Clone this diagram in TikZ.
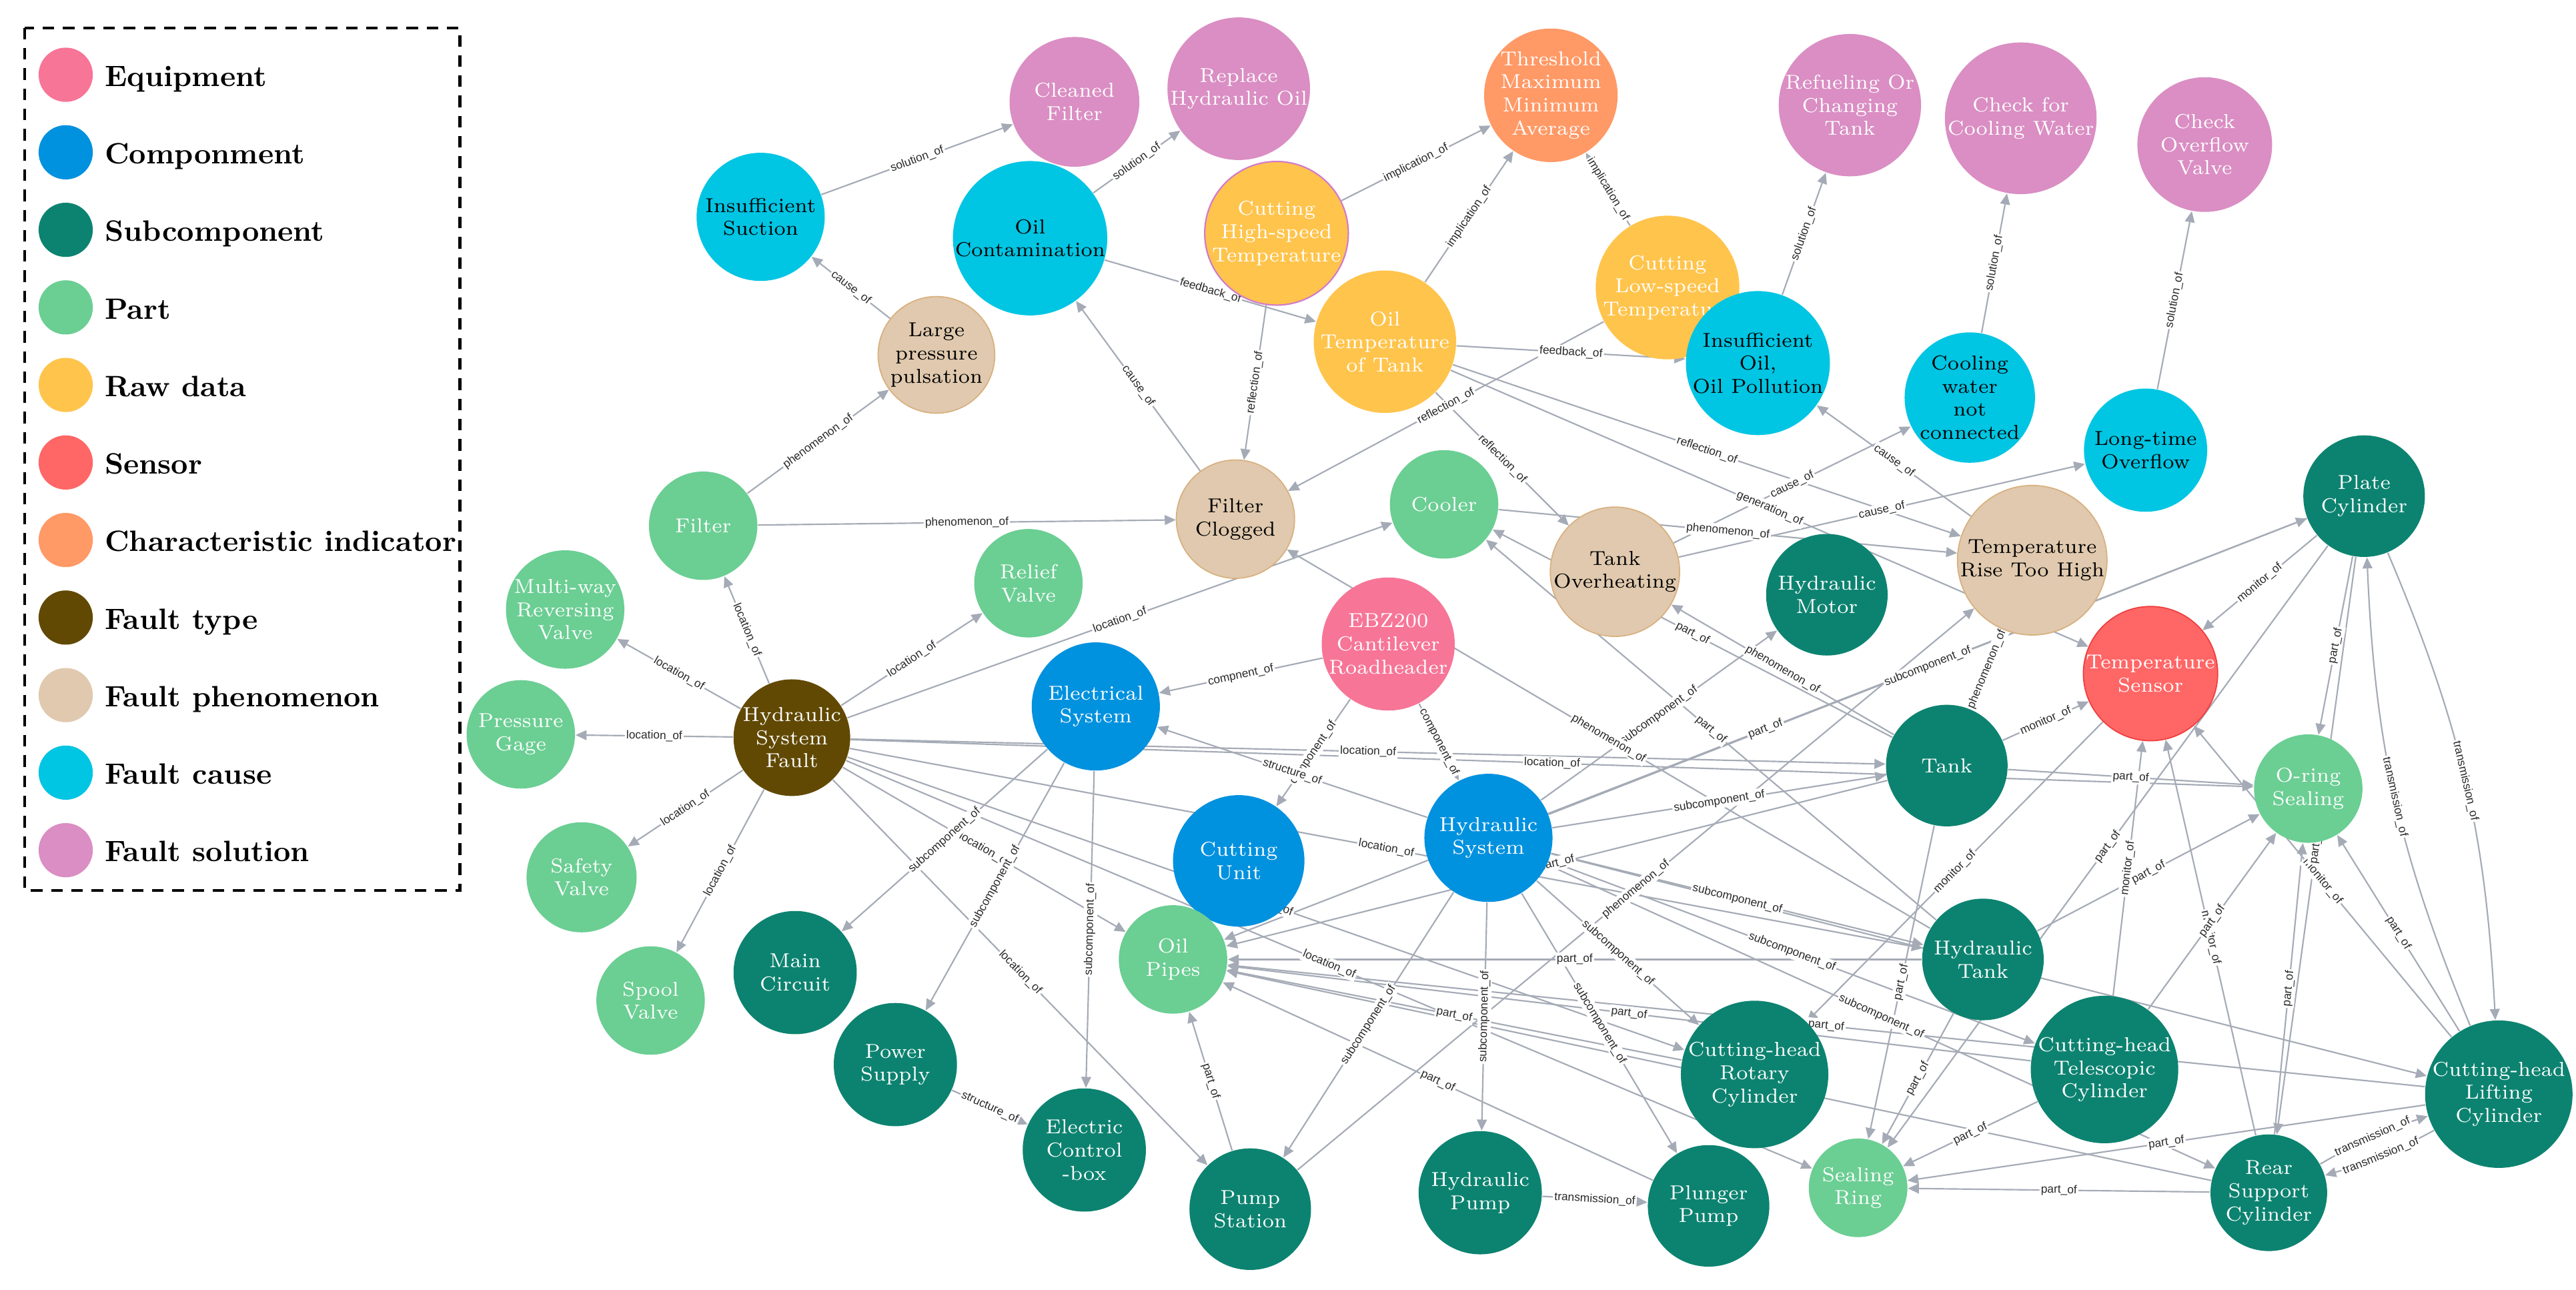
\documentclass[tikz,border=0pt]{standalone}
\usepackage{fontspec}
\newfontfamily\labfont{Liberation Sans}
\usetikzlibrary{arrows.meta}
\pgfdeclarelayer{bgfill}
\pgfdeclarelayer{edges}
\pgfdeclarelayer{labels}
\pgfsetlayers{bgfill,edges,labels,main}
\definecolor{cEquip}{HTML}{F77597}
\definecolor{cComp}{HTML}{0091DF}
\definecolor{cSub}{HTML}{0C8370}
\definecolor{cPart}{HTML}{6BCE93}
\definecolor{cRaw}{HTML}{FFC44C}
\definecolor{cSens}{HTML}{FF6666}
\definecolor{cSensB}{HTML}{F03C3C}
\definecolor{cChar}{HTML}{FF9966}
\definecolor{cType}{HTML}{614903}
\definecolor{cPhen}{HTML}{E0C9AE}
\definecolor{cPhenB}{HTML}{D8B07E}
\definecolor{cCause}{HTML}{00C5E3}
\definecolor{cSol}{HTML}{DA8EC3}
\definecolor{cEdge}{HTML}{A5ABB6}
\definecolor{cLab}{HTML}{2A2A2A}
\definecolor{cHigh}{HTML}{D27BC9}
\tikzset{
  knbase/.style={circle, inner sep=0pt, align=center, font=\fontsize{7.0}{8.0}\selectfont, text=white},
  kEquip/.style={knbase, fill=cEquip},
  kComp/.style={knbase, fill=cComp},
  kSub/.style={knbase, fill=cSub},
  kPart/.style={knbase, fill=cPart},
  kRaw/.style={knbase, fill=cRaw},
  kSens/.style={knbase, fill=cSens, draw=cSensB, line width=0.4pt},
  kChar/.style={knbase, fill=cChar},
  kType/.style={knbase, fill=cType},
  kPhen/.style={knbase, fill=cPhen, draw=cPhenB, line width=0.4pt, text=black},
  kCause/.style={knbase, fill=cCause, text=black},
  kSol/.style={knbase, fill=cSol},
  kgedge/.style={draw=cEdge, line width=0.5pt, -{Triangle[length=3.8pt,width=3.4pt]}},
  kglab/.style={sloped, fill=white, inner sep=0.5pt, font=\labfont\fontsize{4}{4.5}\selectfont, text=cLab},
}
\newcommand\knode[6]{\node[#5, minimum size={#4*0.02cm}] (#1) at (#2,#3) {#6};}
\newcommand\kedge[4][]{%
  \begin{pgfonlayer}{edges}\draw[kgedge,#1] (#2) to (#3);\end{pgfonlayer}%
  \begin{pgfonlayer}{labels}\path[#1] (#2) to node[kglab]{#4} (#3);\end{pgfonlayer}}
\newcommand\legrow[4]{%
  \node[circle, fill=#2, minimum size=0.66cm, inner sep=0pt] (lgc#1) at (40,#3) {};
  \node[anchor=base west, inner sep=0pt, font=\fontsize{10.2}{12}\selectfont\bfseries] (lgt#1) at (63.5,#3+7) {#4};}
\begin{document}
\begin{tikzpicture}[x=0.02cm, y=-0.02cm]
\begin{pgfonlayer}{bgfill}
\fill[white] (0,0) rectangle (1568,785);
\end{pgfonlayer}
\useasboundingbox (0,0) rectangle (1568,785);

% legend
\draw[line width=1pt, dash pattern=on 4pt off 3pt] (15,17) rectangle (280,542);
\legrow{1}{cEquip}{45.5}{Equipment}
\legrow{2}{cComp}{92.7}{Componment}
\legrow{3}{cSub}{139.9}{Subcomponent}
\legrow{4}{cPart}{187.1}{Part}
\legrow{5}{cRaw}{234.3}{Raw data}
\legrow{6}{cSens}{281.5}{Sensor}
\legrow{7}{cChar}{328.7}{Characteristic indicator}
\legrow{8}{cType}{375.9}{Fault type}
\legrow{9}{cPhen}{423.1}{Fault phenomenon}
\legrow{10}{cCause}{470.3}{Fault cause}
\legrow{11}{cSol}{517.5}{Fault solution}

% nodes
\knode{CF}{654}{62}{79}{kSol}{Cleaned\\Filter}
\knode{RHO}{754}{54}{79}{kSol}{Replace\\Hydraulic Oil}
\knode{TH}{944}{58}{77}{kChar}{Threshold\\Maximum\\Minimum\\Average}
\knode{RCT}{1126}{64}{82}{kSol}{Refueling Or\\Changing\\Tank}
\knode{CCW}{1230}{72}{82}{kSol}{Check for\\Cooling Water}
\knode{COV}{1342}{88}{82}{kSol}{Check\\Overflow\\Valve}
\knode{IS}{463}{132}{78}{kCause}{Insufficient\\Suction}
\knode{OC}{627}{145}{81}{kCause}{Oil\\Contamination}
\knode{CHS}{777}{142}{76}{kRaw, draw=cHigh, line width=0.5pt}{Cutting\\High-speed\\Temperature}
\knode{OTT}{843}{208}{76}{kRaw}{Oil\\Temperature\\of Tank}
\knode{CLS}{1015}{175}{77}{kRaw}{Cutting\\Low-speed\\Temperature}
\knode{IO}{1070}{221}{74}{kCause}{Insufficient\\Oil,\\Oil Pollution}
\knode{CWN}{1199}{242}{74}{kCause}{Cooling\\water\\not\\connected}
\knode{LTO}{1306}{274}{75}{kCause}{Long-time\\Overflow}
\knode{LPP}{570}{216}{71}{kPhen}{Large\\pressure\\pulsation}
\knode{FC}{752}{316}{72}{kPhen}{Filter\\Clogged}
\knode{COOL}{879}{307}{66}{kPart}{Cooler}
\knode{TO}{983}{348}{71}{kPhen}{Tank\\Overheating}
\knode{TRH}{1237}{341}{74}{kPhen}{Temperature\\Rise Too High}
\knode{PC}{1439}{302}{74}{kSub}{Plate\\Cylinder}
\knode{FIL}{428}{320}{66}{kPart}{Filter}
\knode{MRV}{344}{371}{66}{kPart}{Multi-way\\Reversing\\Valve}
\knode{RV}{626}{355}{66}{kPart}{Relief\\Valve}
\knode{HM}{1112}{362}{74}{kSub}{Hydraulic\\Motor}
\knode{EBZ}{845}{392}{73}{kEquip}{EBZ200\\Cantilever\\Roadheader}
\knode{ES}{667}{430}{78}{kComp}{Electrical\\System}
\knode{PG}{317}{447}{66}{kPart}{Pressure\\Gage}
\knode{HSF}{482}{449}{71}{kType}{Hydraulic\\System\\Fault}
\knode{TS}{1309}{410}{77}{kSens}{Temperature\\Sensor}
\knode{TANK}{1185}{466}{74}{kSub}{Tank}
\knode{ORS}{1405}{480}{66}{kPart}{O-ring\\Sealing}
\knode{SV}{354}{534}{67}{kPart}{Safety\\Valve}
\knode{CU}{754}{524}{80}{kComp}{Cutting\\Unit}
\knode{HS}{906}{510}{78}{kComp}{Hydraulic\\System}
\knode{SPV}{396}{609}{66}{kPart}{Spool\\Valve}
\knode{MC}{484}{592}{75}{kSub}{Main\\Circuit}
\knode{OP}{714}{584}{66}{kPart}{Oil\\Pipes}
\knode{HT}{1207}{584}{74}{kSub}{Hydraulic\\Tank}
\knode{PS}{545}{648}{75}{kSub}{Power\\Supply}
\knode{ECB}{660}{700}{75}{kSub}{Electric\\Control\\-box}
\knode{CHR}{1068}{654}{74}{kSub}{Cutting-head\\Rotary\\Cylinder}
\knode{CHT}{1281}{651}{74}{kSub}{Cutting-head\\Telescopic\\Cylinder}
\knode{CHL}{1521}{666}{78}{kSub}{Cutting-head\\Lifting\\Cylinder}
\knode{PST}{761}{736}{74}{kSub}{Pump\\Station}
\knode{HP}{901}{726}{75}{kSub}{Hydraulic\\Pump}
\knode{PP}{1040}{734}{74}{kSub}{Plunger\\Pump}
\knode{SR}{1131}{723}{60}{kPart}{Sealing\\Ring}
\knode{RSC}{1381}{726}{71}{kSub}{Rear\\Support\\Cylinder}

% edges
\kedge{IS}{CF}{solution\_of}
\kedge{OC}{RHO}{solution\_of}
\kedge{LPP}{IS}{cause\_of}
\kedge{FIL}{LPP}{phenomenon\_of}
\kedge{FC}{OC}{cause\_of}
\kedge{OC}{OTT}{feedback\_of}
\kedge{CHS}{TH}{implication\_of}
\kedge{OTT}{TH}{implication\_of}
\kedge{CLS}{TH}{implication\_of}
\kedge{IO}{RCT}{solution\_of}
\kedge{CWN}{CCW}{solution\_of}
\kedge{LTO}{COV}{solution\_of}
\kedge{CHS}{FC}{reflection\_of}
\kedge{CLS}{FC}{reflection\_of}
\kedge{OTT}{IO}{feedback\_of}
\kedge{OTT}{TO}{reflection\_of}
\kedge{OTT}{TRH}{reflection\_of}
\kedge{OTT}{TS}{generation\_of}
\kedge{TO}{CWN}{cause\_of}
\kedge{TO}{LTO}{cause\_of}
\kedge{TRH}{IO}{cause\_of}
\kedge{COOL}{TRH}{phenomenon\_of}
\kedge{TANK}{TRH}{phenomenon\_of}
\kedge{TANK}{COOL}{part\_of}
\kedge{HT}{COOL}{part\_of}
\kedge{TANK}{TO}{phenomenon\_of}
\kedge{HS}{HM}{subcomponent\_of}
\kedge{HT}{FC}{phenomenon\_of}
\kedge{EBZ}{ES}{compnent\_of}
\kedge{EBZ}{CU}{component\_of}
\kedge{EBZ}{HS}{component\_of}
\kedge{HS}{ES}{structure\_of}
\kedge{HSF}{COOL}{location\_of}
\kedge{HSF}{FIL}{location\_of}
\kedge{HSF}{RV}{location\_of}
\kedge{HSF}{MRV}{location\_of}
\kedge{HSF}{PG}{location\_of}
\kedge{HSF}{SV}{location\_of}
\kedge{HSF}{SPV}{location\_of}
\kedge{FIL}{FC}{phenomenon\_of}
\kedge{HSF}{TANK}{location\_of}
\kedge{HSF}{ORS}{location\_of}
\kedge{HSF}{PST}{location\_of}
\kedge{HSF}{SR}{location\_of}
\kedge{HSF}{HT}{location\_of}
\kedge{HSF}{OP}{location\_of}
\kedge{HSF}{CHR}{location\_of}
\kedge{HS}{PC}{subcomponent\_of}
\kedge{PC}{OP}{part\_of}
\kedge{HS}{TANK}{subcomponent\_of}
\kedge{TANK}{OP}{part\_of}
\kedge{HT}{OP}{part\_of}
\kedge{CHT}{OP}{part\_of}
\kedge{CHL}{OP}{part\_of}
\kedge{CHR}{OP}{part\_of}
\kedge{PP}{OP}{part\_of}
\kedge{RSC}{OP}{part\_of}
\kedge{PST}{OP}{part\_of}
\kedge{HS}{HT}{subcomponent\_of}
\kedge{HS}{CHT}{subcomponent\_of}
\kedge{HS}{RSC}{subcomponent\_of}
\kedge{HS}{CHR}{subcomponent\_of}
\kedge{HS}{PP}{subcomponent\_of}
\kedge{HS}{HP}{subcomponent\_of}
\kedge{HS}{PST}{subcomponent\_of}
\kedge{HS}{CHL}{subcomponent\_of}
\kedge{CHL}{SR}{part\_of}
\kedge[bend left=6]{RSC}{CHL}{transmission\_of}
\kedge[bend left=6]{CHL}{RSC}{transmission\_of}
\kedge{RSC}{SR}{part\_of}
\kedge{CHT}{SR}{part\_of}
\kedge{HT}{SR}{part\_of}
\kedge{TANK}{SR}{part\_of}
\kedge{PC}{SR}{part\_of}
\kedge{TS}{CHR}{monitor\_of}
\kedge{TANK}{TS}{monitor\_of}
\kedge{CHT}{TS}{monitor\_of}
\kedge{RSC}{TS}{monitor\_of}
\kedge{CHL}{TS}{monitor\_of}
\kedge{PC}{TS}{monitor\_of}
\kedge{CHT}{ORS}{part\_of}
\kedge{HT}{ORS}{part\_of}
\kedge{PC}{ORS}{part\_of}
\kedge{PC}{RSC}{part\_of}
\kedge{RSC}{ORS}{part\_of}
\kedge[bend left=10]{CHL}{PC}{transmission\_of}
\kedge[bend left=10]{PC}{CHL}{transmission\_of}
\kedge{CHL}{ORS}{part\_of}
\kedge{PST}{TRH}{phenomenon\_of}
\kedge{TANK}{ORS}{part\_of}
\kedge{ES}{MC}{subcomponent\_of}
\kedge{ES}{PS}{subcomponent\_of}
\kedge{ES}{ECB}{subcomponent\_of}
\kedge{PS}{ECB}{structure\_of}
\kedge{HP}{PP}{transmission\_of}
\end{tikzpicture}
\end{document}
